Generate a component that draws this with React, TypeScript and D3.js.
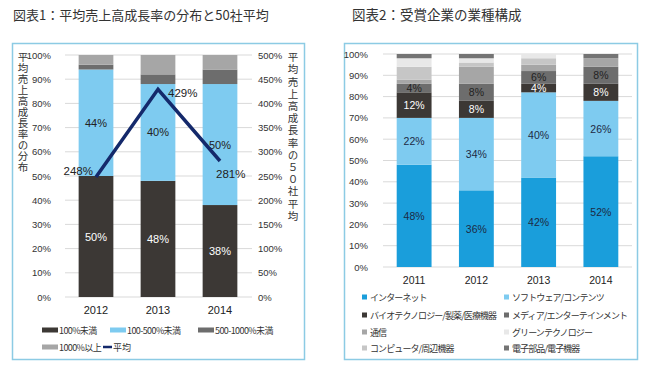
import React from 'react';
import * as d3 from 'd3';

// 図表1
const years1 = ['2012', '2013', '2014'];
const under100 = [50, 48, 38];
const r100to500 = [44, 40, 50];
const r500to1000 = [2, 4, 6];
const over1000 = [4, 8, 6];
const avgGrowth = [248, 429, 281];
const dist1Names = ['100%未満', '100-500%未満', '500-1000%未満', '1000%以上'];
const leftTicks = [0, 10, 20, 30, 40, 50, 60, 70, 80, 90, 100];
const rightTicks = [0, 50, 100, 150, 200, 250, 300, 350, 400, 450, 500];

// 図表2
const years2 = ['2011', '2012', '2013', '2014'];
const internet = [48, 36, 42, 52];
const software = [22, 34, 40, 26];
const bio = [12, 8, 4, 8];
const media = [4, 8, 6, 8];
const telecom = [2, 8, 3, 4];
const green = [4, 2, 2, 0];
const computer = [6, 2, 3, 0];
const electronics = [2, 2, 0, 2];
const industryNames = [
  'インターネット', 'ソフトウェア/コンテンツ',
  'バイオテクノロジー/製薬/医療機器', 'メディア/エンターテインメント',
  '通信', 'グリーンテクノロジー',
  'コンピュータ/周辺機器', '電子部品/電子機器',
];

const FONT = '"Liberation Sans", "Noto Sans CJK JP", sans-serif';
const JFONT = '"Noto Sans CJK JP", sans-serif';
const FRAME = '#8ccbe4';
const GRID = '#d9d9d9';
const DARK = '#3c3835';
const LBLUE = '#7ecbf0';
const BLUE = '#1a9edb';

const c1 = [DARK, LBLUE, '#6d6d6d', '#a6a6a6'];
const industryColors = [BLUE, LBLUE, DARK, '#6d6d6d', '#a6a6a6', '#e8e8e8', '#c6c6c6', '#747474'];
// stacking order (bottom to top) differs from legend order for the grey series
const stackOrder = [0, 1, 2, 3, 4, 6, 5, 7];

const VerticalText = ({ text, x, y, spacing }: { text: string; x: number; y: number; spacing: number }) => (
  <text x={x} y={y} fontSize={10.5} fontFamily={JFONT} fill="#333"
    style={{ writingMode: 'vertical-rl', letterSpacing: spacing }}>{text}</text>
);

const Chart1 = () => {
  const x = d3.scaleBand().domain(years1).range([65, 251]).paddingInner(0.44).paddingOuter(0.22);
  const y = d3.scaleLinear().domain([0, 100]).range([297, 55]);
  const y2 = d3.scaleLinear().domain([0, 500]).range([297, 55]);
  const rows = years1.map((yr, i) => ({ year: yr, a: under100[i], b: r100to500[i], c: r500to1000[i], d: over1000[i] }));
  const series = d3.stack<any>().keys(['a', 'b', 'c', 'd'])(rows);
  const cx = (yr: string) => (x(yr) as number) + x.bandwidth() / 2;
  const line = d3.line<number>().x((_, i) => cx(years1[i])).y(v => y2(v));
  const lblOff = [[-3, -6, 'end'], [10, 4, 'start'], [-4, 13, 'start']] as const;

  return (
    <g>
      <text x={13} y={20} fontSize={13} fontFamily={JFONT} fill="#333">図表1：平均売上高成長率の分布と50社平均</text>
      <rect x={12.5} y={43.5} width={292} height={316} fill="#fff" stroke={FRAME} strokeWidth={1.5} />
      {leftTicks.map(t => (
        <g key={t}>
          <line x1={65} x2={252} y1={y(t)} y2={y(t)} stroke={GRID} />
          <text x={51} y={y(t)} textAnchor="end" dominantBaseline="central" fontSize={9.5} fontFamily={FONT} fill="#333">{t}%</text>
        </g>
      ))}
      {rightTicks.map(t => (
        <text key={t} x={258} y={y2(t)} dominantBaseline="central" fontSize={9.5} fontFamily={FONT} fill="#333">{t}%</text>
      ))}
      {series.map((s, si) => s.map((d, i) => (
        <rect key={si + '-' + i} x={x(years1[i])} width={x.bandwidth()} y={y(d[1])} height={y(d[0]) - y(d[1])} fill={c1[si]} />
      )))}
      {series.slice(0, 2).map((s, si) => s.map((d, i) => (
        <text key={'l' + si + i} x={cx(years1[i])} y={y((d[0] + d[1]) / 2)} textAnchor="middle" dominantBaseline="central"
          fontSize={11} fontFamily={FONT} fill={si === 0 ? '#fff' : '#222'}>{d[1] - d[0]}%</text>
      )))}
      <path d={line(avgGrowth) || ''} fill="none" stroke="#14296b" strokeWidth={3.5} />
      {avgGrowth.map((v, i) => (
        <text key={'g' + i} x={cx(years1[i]) + lblOff[i][0]} y={y2(v) + lblOff[i][1]} textAnchor={lblOff[i][2]}
          dominantBaseline="central" fontSize={11.5} fontFamily={FONT} fill="#222">{v}%</text>
      ))}
      {years1.map(yr => (
        <text key={yr} x={cx(yr)} y={310} textAnchor="middle" dominantBaseline="central" fontSize={11} fontFamily={FONT} fill="#222">{yr}</text>
      ))}
      <VerticalText text="平均売上高成長率の分布" x={23} y={52} spacing={0.5} />
      <VerticalText text="平均売上高成長率の５０社平均" x={293} y={52} spacing={1.7} />
      {/* legend */}
      {[[42, 330], [110, 330], [198, 330], [42, 347]].map(([lx, ly], i) => (
        <g key={'lg' + i}>
          <rect x={lx} y={ly - 2.5} width={16} height={5} fill={c1[i]} />
          <text x={lx + 17} y={ly} dominantBaseline="central" fontSize={9} fontFamily={JFONT} fill="#333" letterSpacing={-0.6}>{dist1Names[i]}</text>
        </g>
      ))}
      <line x1={103} x2={112} y1={347} y2={347} stroke="#14296b" strokeWidth={2.5} />
      <text x={113} y={347} dominantBaseline="central" fontSize={9} fontFamily={JFONT} fill="#333">平均</text>
    </g>
  );
};

const Chart2 = () => {
  const x = d3.scaleBand().domain(years2).range([383, 632]).paddingInner(0.44).paddingOuter(0.22);
  const y = d3.scaleLinear().domain([0, 100]).range([267, 54]);
  const cols = [internet, software, bio, media, telecom, green, computer, electronics];
  const rows = years2.map((yr, i) => {
    const r: any = { year: yr };
    cols.forEach((c, k) => { r['s' + k] = c[i]; });
    return r;
  });
  const series = d3.stack<any>().keys(stackOrder.map(k => 's' + k))(rows);
  const cx = (yr: string) => (x(yr) as number) + x.bandwidth() / 2;
  const labelColor = ['#1d2a44', '#1d2a44', '#fff', '#222'];

  return (
    <g>
      <text x={352} y={20} fontSize={13.5} fontFamily={JFONT} fill="#333">図表2：受賞企業の業種構成</text>
      <rect x={344.5} y={43.5} width={293} height={316} fill="#fff" stroke={FRAME} strokeWidth={1.5} />
      {leftTicks.map(t => (
        <g key={t}>
          <line x1={383} x2={632} y1={y(t)} y2={y(t)} stroke={GRID} />
          <text x={368} y={y(t)} textAnchor="end" dominantBaseline="central" fontSize={9.5} fontFamily={FONT} fill="#333">{t}%</text>
        </g>
      ))}
      {series.map((s, si) => s.map((d, i) => (
        <rect key={si + '-' + i} x={x(years2[i])} width={x.bandwidth()} y={y(d[1])} height={y(d[0]) - y(d[1])}
          fill={industryColors[stackOrder[si]]} />
      )))}
      {series.slice(0, 4).map((s, si) => s.map((d, i) => (
        <text key={'l' + si + i} x={cx(years2[i])} y={y((d[0] + d[1]) / 2)} textAnchor="middle" dominantBaseline="central"
          fontSize={10.5} fontFamily={FONT} fill={labelColor[si]}>{d[1] - d[0]}%</text>
      )))}
      {years2.map(yr => (
        <text key={yr} x={cx(yr)} y={280} textAnchor="middle" dominantBaseline="central" fontSize={10.5} fontFamily={FONT} fill="#222">{yr}</text>
      ))}
      {industryNames.map((n, i) => {
        const lx = i % 2 === 0 ? 362 : 504;
        const ly = [297, 315, 332, 348][Math.floor(i / 2)];
        return (
          <g key={n}>
            <rect x={lx} y={ly - 2.5} width={5} height={5} fill={industryColors[i]} />
            <text x={lx + 8} y={ly} dominantBaseline="central" fontSize={9} fontFamily={JFONT} fill="#333" letterSpacing={-0.9}>{n}</text>
          </g>
        );
      })}
    </g>
  );
};

export default function App() {
  return (
    <svg width={650} height={370} style={{ position: 'absolute', left: 0, top: 0, background: '#fff' }}>
      <rect width={650} height={370} fill="#fff" />
      <Chart1 />
      <Chart2 />
    </svg>
  );
}
